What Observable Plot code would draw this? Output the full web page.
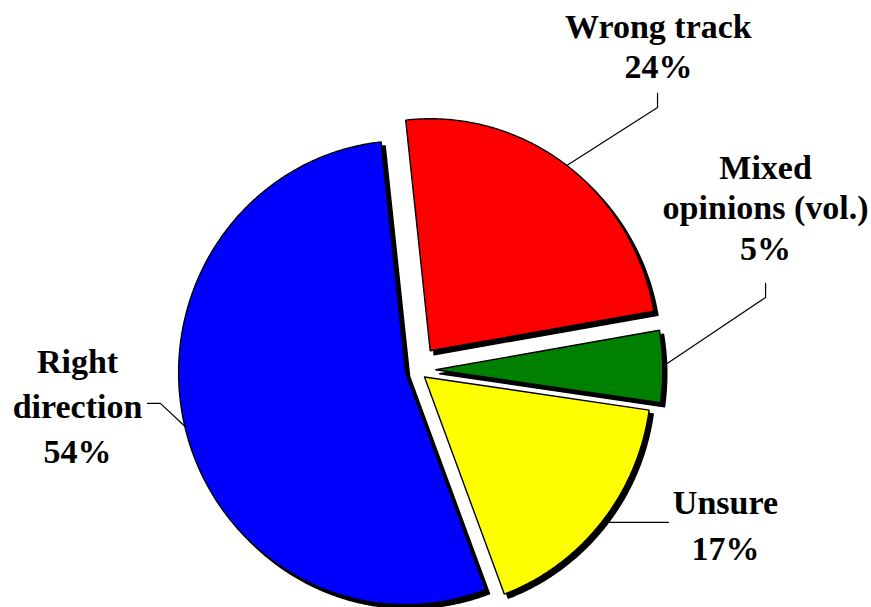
<!DOCTYPE html>
<html>
<head>
<meta charset="utf-8">
<script src="https://cdn.jsdelivr.net/npm/d3@7"></script>
<script src="https://cdn.jsdelivr.net/npm/@observablehq/plot@0.6"></script>
<style>
  html, body { margin: 0; padding: 0; background: #ffffff; }
</style>
</head>
<body>
<div id="chart"></div>
<script>
// ---- data ----
const categories = ["Wrong track", "Mixed opinions (vol.)", "Unsure", "Right direction"];
const values = [24, 5, 17, 54];
const sliceColors = ["#ff0000", "#008000", "#ffff00", "#0000ff"];
const labelLines = [["Wrong track"], ["Mixed", "opinions (vol.)"], ["Unsure"], ["Right", "direction"]];

// ---- layout (normalised to pie radius, centred on pie) ----
const W = 871, H = 607;
const pie = {cx: 415.5, cy: 369.5, rx: 227, ry: 232, startDeg: -6.2};
const explode = [0.104, 0.087, 0.048, 0.047];
const labelLayout = [
  {leader: [[1.064, -1.131], [1.064, -1.192]], text: [1.068, -1.259], lh: 1.18},
  {leader: [[1.540, -0.3125], [1.540, -0.373]], text: [1.540, -0.476], lh: 1.18},
  {leader: [[1.112, 0.657]], text: [1.363, 0.817], lh: 1.33},
  {leader: [[-1.126, 0.144], [-1.183, 0.144]], text: [-1.491, 0.399], lh: 1.31}
];

// ---- geometry from values ----
const start = pie.startDeg * Math.PI / 180;
const arcs = d3.pie().sort(null).value(d => d).startAngle(start).endAngle(start + 2 * Math.PI)(values);

const slicePts = [];
const leaderPts = [];
const labelData = [];
arcs.forEach((a, i) => {
  const k = categories[i];
  const mid = (a.startAngle + a.endAngle) / 2;
  const ox = explode[i] * Math.sin(mid), oy = -explode[i] * Math.cos(mid);
  slicePts.push({k, x: ox, y: oy});
  const n = Math.max(4, Math.ceil((a.endAngle - a.startAngle) / (Math.PI / 360)));
  for (let j = 0; j <= n; j++) {
    const t = a.startAngle + (a.endAngle - a.startAngle) * j / n;
    slicePts.push({k, x: ox + Math.sin(t), y: oy - Math.cos(t)});
  }
  slicePts.push({k, x: ox, y: oy});

  leaderPts.push({k, x: ox + Math.sin(mid), y: oy - Math.cos(mid)});
  labelLayout[i].leader.forEach(([x, y]) => leaderPts.push({k, x, y}));

  labelData.push({
    k,
    x: labelLayout[i].text[0],
    y: labelLayout[i].text[1],
    lh: labelLayout[i].lh,
    text: [...labelLines[i], `${values[i]}%`].join("\n")
  });
});

const font = {fontSize: 34, fontWeight: "bold", fontFamily: "'Liberation Serif', 'Times New Roman', serif"};

const chart = Plot.plot({
  width: W,
  height: H,
  margin: 0,
  style: {background: "#ffffff", overflow: "visible"},
  x: {type: "linear", domain: [-1, 1], range: [pie.cx - pie.rx, pie.cx + pie.rx], axis: null},
  y: {type: "linear", domain: [-1, 1], range: [pie.cy - pie.ry, pie.cy + pie.ry], axis: null},
  color: {domain: categories, range: sliceColors},
  marks: [
    // drop shadow
    Plot.line(slicePts, {x: "x", y: "y", z: "k", fill: "black", stroke: "black", strokeWidth: 1.5, dx: 4, dy: 4, strokeLinejoin: "round", clip: false}),
    // slices
    Plot.line(slicePts, {x: "x", y: "y", z: "k", fill: "k", stroke: "black", strokeWidth: 1.4, strokeLinejoin: "miter"}),
    // leader lines
    Plot.line(leaderPts, {x: "x", y: "y", z: "k", stroke: "black", strokeWidth: 1.2}),
    // labels
    ...labelData.map(d => Plot.text([d], {
      x: "x", y: "y", text: "text", textAnchor: "middle", lineAnchor: "bottom",
      lineHeight: d.lh, fill: "black", ...font
    }))
  ]
});

document.getElementById("chart").appendChild(chart);
</script>
</body>
</html>
